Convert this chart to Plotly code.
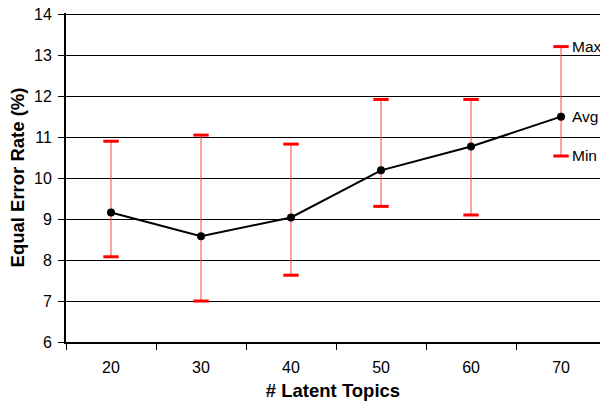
import plotly.graph_objects as go

topics = [20, 30, 40, 50, 60, 70]
avg_err = [9.16, 8.58, 9.04, 10.19, 10.77, 11.50]
max_err = [10.90, 11.05, 10.83, 11.92, 11.92, 13.21]
min_err = [8.08, 7.00, 7.63, 9.31, 9.10, 10.54]
y_ticks = [6, 7, 8, 9, 10, 11, 12, 13, 14]
label_texts = ["Max", "Avg", "Min"]

FONT = "Liberation Sans, Arial, sans-serif"

fig = go.Figure()

# vertical range lines
fig.add_trace(go.Scatter(
    x=topics, y=avg_err, mode="markers",
    marker=dict(size=1, color="rgba(0,0,0,0)"),
    error_y=dict(type="data", symmetric=False,
                 array=[mx - a for mx, a in zip(max_err, avg_err)],
                 arrayminus=[a - mn for mn, a in zip(min_err, avg_err)],
                 color="#ff4040", thickness=1, width=0),
    showlegend=False, hoverinfo="skip"))

# caps
fig.add_trace(go.Scatter(
    x=topics + topics, y=max_err + min_err, mode="markers",
    marker=dict(symbol="line-ew", size=11, line=dict(color="#ff0000", width=3)),
    showlegend=False, hoverinfo="skip"))

# average line
fig.add_trace(go.Scatter(
    x=topics, y=avg_err, mode="lines+markers",
    line=dict(color="black", width=2),
    marker=dict(color="black", size=8),
    showlegend=False))

for txt, val in zip(label_texts, [max_err[-1], avg_err[-1], min_err[-1]]):
    fig.add_annotation(x=topics[-1], y=val, text=txt, showarrow=False,
                       xanchor="left", yanchor="middle", xshift=9,
                       font=dict(family=FONT, size=15.5, color="black"))

fig.update_layout(
    width=600, height=403,
    margin=dict(l=66, r=0, t=13, b=61),
    plot_bgcolor="white", paper_bgcolor="white",
    font=dict(family=FONT, size=16, color="black"),
    xaxis=dict(
        range=[15, 74.33], tickmode="array", tickvals=topics,
        ticks="", showgrid=False, zeroline=False,
        showline=True, linecolor="black", linewidth=2,
        minor=dict(tickmode="linear", tick0=15, dtick=10, ticks="outside",
                   ticklen=6, tickcolor="black", tickwidth=1, showgrid=False),
        tickfont=dict(size=16), ticklabelstandoff=10,
        title=dict(text="<b># Latent Topics</b>", font=dict(size=18.5), standoff=9),
    ),
    yaxis=dict(
        range=[6, 14.03], tickmode="array", tickvals=y_ticks,
        ticks="outside", ticklen=6, tickcolor="black", tickwidth=1,
        showgrid=True, gridcolor="black", gridwidth=1, zeroline=False,
        showline=True, linecolor="black", linewidth=2,
        tickfont=dict(size=16), ticklabelstandoff=3, ticklabeloverflow="allow",
        title=dict(text="<b>Equal Error Rate (%)</b>", font=dict(size=18.5), standoff=5),
    ),
)

fig.write_html("out.html", config={"displayModeBar": False},
               post_script="document.body.style.margin='0';document.body.style.overflow='hidden';document.documentElement.style.overflow='hidden';")
